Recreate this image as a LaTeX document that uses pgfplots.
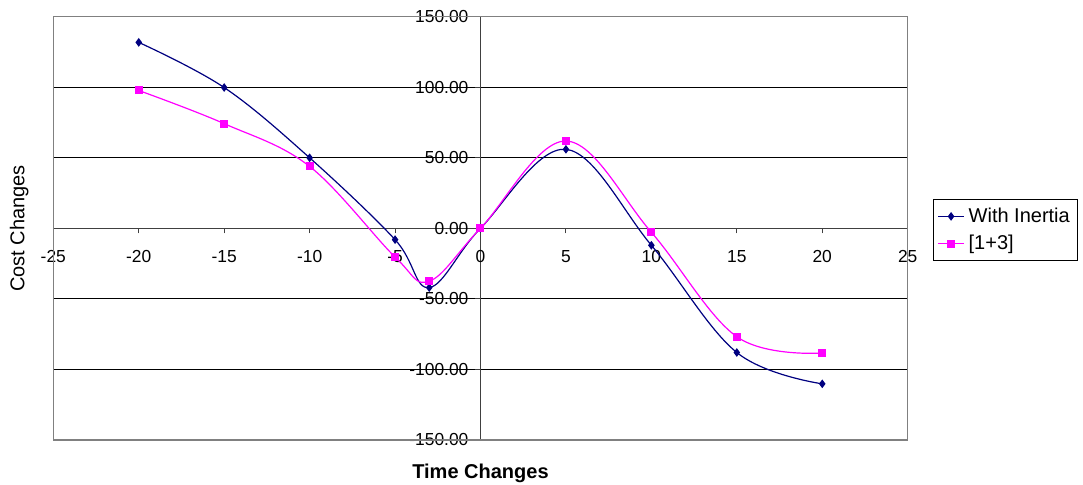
\documentclass[border=0pt]{standalone}
\usepackage{pgfplots}
\pgfplotsset{compat=1.18}
\usepackage{fontspec}
\setmainfont{Liberation Sans}
\definecolor{inertia}{RGB}{0,0,128}
\definecolor{mag}{RGB}{255,0,255}
\begin{document}
\begin{tikzpicture}
\useasboundingbox (-26.65pt,-22.5pt) rectangle (514.85pt,220pt);
\begin{axis}[
  scale only axis, width=427.2pt, height=211.65pt,
  xmin=-25, xmax=25, ymin=-150, ymax=150,
  axis lines=middle,
  axis line style={black!75, line width=0.5pt, -},
  xtick={-25,-20,...,25},
  ytick={-150,-100,...,150},
  hide obscured x ticks=false, hide obscured y ticks=false,
  ymajorgrids, major grid style={black, line width=0.5pt},
  tick align=outside, major tick length=2.5pt,
  tick style={black!75, line width=0.5pt},
  /pgf/number format/assume math mode=true,
  ticklabel style={font=\fontsize{8.7}{10}\selectfont},
  yticklabel style={/pgf/number format/fixed, /pgf/number format/fixed zerofill, /pgf/number format/precision=2},
  xticklabel style={/pgf/number format/fixed, /pgf/number format/precision=0, yshift=-5pt},
  xlabel={Time Changes},
  ylabel={Cost Changes},
  xlabel style={at={(axis description cs:0.5,-0.078)}, anchor=center, font=\bfseries\fontsize{10}{12}\selectfont},
  ylabel style={at={(axis description cs:-0.040,0.5)}, anchor=center, rotate=90, font=\fontsize{10}{12}\selectfont},
  legend style={at={(axis description cs:1.0296,0.569)}, anchor=north west, draw=black, line width=0.5pt,
    font=\fontsize{10}{12}\selectfont, inner xsep=2pt, inner ysep=2pt, row sep=1pt},
  legend cell align=left,
  legend image code/.code={\draw[#1, mark repeat=2, mark phase=2] plot coordinates {(0pt,0pt) (6.5pt,0pt) (13pt,0pt)};},
  clip=false,
]
\draw[gray, line width=0.6pt] (rel axis cs:0,0) rectangle (rel axis cs:1,1);
\addplot[color=inertia, line width=0.6pt, smooth, tension=0.6, mark=diamond*, mark size=1.7pt, mark options={fill=inertia}]
  coordinates {(-20,131.8) (-15,99.8) (-10,50) (-5,-8) (-3,-42) (0,0) (5,56) (10,-12) (15,-88) (20,-110.2)};
\addlegendentry{With Inertia}
\addplot[color=mag, line width=0.6pt, smooth, tension=0.6, mark=square*, mark size=1.7pt, mark options={fill=mag}]
  coordinates {(-20,97.7) (-15,74.2) (-10,43.9) (-5,-20.3) (-3,-37.5) (0,0) (5,61.9) (10,-2.8) (15,-76.8) (20,-88.4)};
\addlegendentry{[1+3]}
\end{axis}
\end{tikzpicture}
\end{document}
